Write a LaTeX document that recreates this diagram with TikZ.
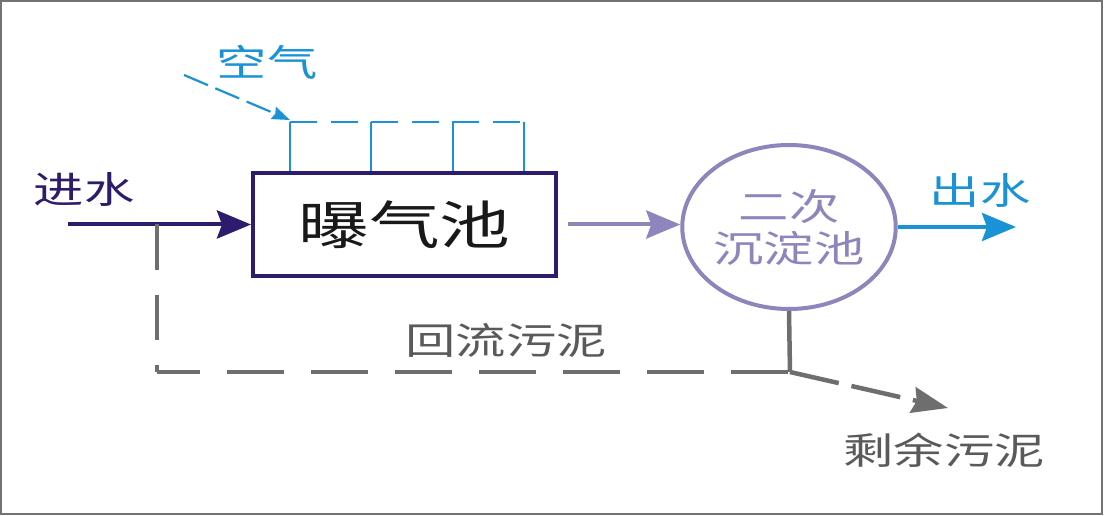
\documentclass[tikz,border=0pt]{standalone}
\usepackage{fontspec}
\setmainfont[FakeStretch=1.36]{Noto Sans CJK SC}
\usetikzlibrary{arrows.meta,positioning,shapes.geometric}
\definecolor{navy}{HTML}{2D1B6B}
\definecolor{lav}{HTML}{8C86BC}
\definecolor{sky}{HTML}{1A93D6}
\definecolor{slud}{HTML}{6E6E6E}
\definecolor{txtgray}{HTML}{5A5A5A}

\begin{document}
\begin{tikzpicture}[
      x=1pt, y=-1pt,
      font=\fontsize{37}{44}\selectfont,
      tank/.style={draw=navy, line width=4pt, minimum width=303pt,
        minimum height=103pt, inner sep=0pt, font=\fontsize{52}{58}\selectfont,
        text=black!90},
      clarifier/.style={draw=lav, ellipse, line width=4pt, minimum width=204pt,
        minimum height=164pt, inner sep=0pt, align=center, text=lav,
        font=\fontsize{37}{44}\selectfont},
      flow/.style={line width=4pt, -{Stealth[length=34pt,width=28pt,inset=5pt]}},
      sludge/.style={draw=slud, line width=4.5pt},
      airline/.style={draw=sky, line width=2.2pt},
      lbl/.style={inner sep=0pt},
    ]
    \useasboundingbox (0,0) rectangle (1104,516);
    \draw[draw=black!55, line width=2pt] (1,1) rectangle (1102,514);
    % tanks
    \node[tank] (aer) at (404.5,224.5) {曝气池};
    \node[clarifier] (clar) at (789,227) {二次\\[-2pt]沉淀池};
    % free ends
    \coordinate (feed) at (68,224.5);
    \coordinate (tee) at (157,224.5);
    \coordinate (corner) at (157,372);
    \coordinate (split) at (790,372);
    \coordinate (waste) at (948,408);
    \coordinate (eff) at (1016,227);
    \coordinate (airsrc) at (184,75);
    \coordinate (airhd) at (290,120);
    % main line
    \draw[flow, navy] (feed) -- (aer.west);
    \draw[flow, lav] ([xshift=10pt]aer.east) -- (aer.east -| clar.west);
    \draw[flow, sky] (clar.east) -- (eff);
    % sludge return and waste
    \draw[sludge] (clar.south) -- (split);
    \draw[sludge, dash pattern=on 45pt off 25pt] (tee) -- (corner);
    \draw[sludge, dash pattern=on 57pt off 27pt, dash phase=14pt] (corner) -- (split);
    \draw[sludge, dash pattern=on 50pt off 13pt,
      -{Stealth[length=36pt,width=26pt,inset=4pt]}] (split) -- (waste);
    % aeration
    \draw[airline, dash pattern=on 26pt off 8pt,
      -{Stealth[length=18pt,width=13pt,inset=2pt]}] (airsrc) -- (airhd);
    \draw[airline, dash pattern=on 27pt off 13.5pt] (290,122) -- (524,122);
    \foreach \x in {290,371,453,524}
      \draw[airline] (\x,122) -- ({\x},122 |- aer.north);
    % labels
    \node[lbl, text=navy] (inlbl) at (84,189) {进水};
    \node[lbl, text=sky] (airlbl) at (267,62) {空气};
    \node[lbl, text=sky] (outlbl) at (980,190) {出水};
    \node[lbl, text=txtgray] (rslbl) at (506,340) {回流污泥};
    \node[lbl, text=txtgray] (wslbl) at (944,450) {剩余污泥};
  \end{tikzpicture}
\end{document}
